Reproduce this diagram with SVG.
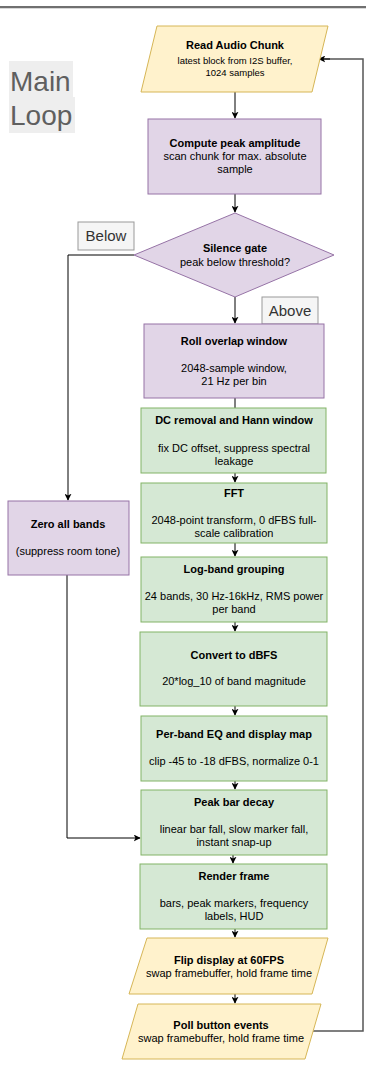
<svg xmlns="http://www.w3.org/2000/svg" width="366" height="1068" viewBox="0 0 366 1068">
<defs>
<marker id="arr" viewBox="0 0 10 10" refX="9" refY="5" markerWidth="7" markerHeight="7" orient="auto" markerUnits="userSpaceOnUse">
<path d="M0,0 L10,5 L0,10 L2.5,5 Z" fill="#000"/>
</marker>
<style>
text{font-family:"Liberation Sans",Arial,sans-serif;text-anchor:middle;fill:#000}
.b{font-weight:bold;font-size:11px}
.n{font-size:11px}
.s{font-size:9.5px}
.purple{fill:#e1d5e7;stroke:#9673a6;stroke-width:1}
.green{fill:#d5e8d4;stroke:#82b366;stroke-width:1}
.yellow{fill:#fff2cc;stroke:#d6b656;stroke-width:1}
.lbl{fill:#f5f5f5;stroke:#999;stroke-width:1}
.lt{font-size:15px;fill:#333}
.c{fill:none;stroke:#000;stroke-width:1}
.loop{fill:none;stroke:#555;stroke-width:1.5}
</style>
</defs>
<rect width="366" height="1068" fill="#fff"/>
<line x1="0" y1="7" x2="366" y2="7" stroke="#707070" stroke-width="2"/>
<line x1="0" y1="8.5" x2="366" y2="8.5" stroke="#d8d8d8" stroke-width="1"/>

<g id="title">
<rect x="9" y="61" width="64" height="36" fill="#eeeeee"/>
<rect x="9" y="97" width="66" height="36" fill="#eeeeee"/>
<text x="10" y="91" style="text-anchor:start;font-size:28px;fill:#5f5f5f">Main</text>
<text x="10" y="125" style="text-anchor:start;font-size:28px;fill:#5f5f5f">Loop</text>
</g>

<g id="connectors">
<line class="c" x1="235" y1="92" x2="235" y2="118" marker-end="url(#arr)"/>
<line class="c" x1="235" y1="194" x2="235" y2="212" marker-end="url(#arr)"/>
<line class="c" x1="235" y1="297" x2="235" y2="323" marker-end="url(#arr)"/>
<polyline class="c" points="134,255 68,255 68,500" marker-end="url(#arr)"/>
<line class="c" x1="235" y1="398" x2="235" y2="408"/>
<line class="c" x1="235" y1="473" x2="235" y2="482" marker-end="url(#arr)"/>
<line class="c" x1="235" y1="543" x2="235" y2="556" marker-end="url(#arr)"/>
<line class="c" x1="235" y1="622" x2="235" y2="631" marker-end="url(#arr)"/>
<line class="c" x1="235" y1="706" x2="235" y2="715" marker-end="url(#arr)"/>
<line class="c" x1="235" y1="781" x2="235" y2="789" marker-end="url(#arr)"/>
<polyline class="c" points="67,575 67,838 140,838" marker-end="url(#arr)"/>
<line class="c" x1="233" y1="855" x2="233" y2="863" marker-end="url(#arr)"/>
<line class="c" x1="235" y1="929" x2="235" y2="937" marker-end="url(#arr)"/>
<line class="c" x1="235" y1="994" x2="235" y2="1003" marker-end="url(#arr)"/>
<polyline class="loop" points="313,1031 363,1031 363,59 320,59"/>
<line class="c" x1="330" y1="59" x2="319" y2="59" marker-end="url(#arr)"/>
</g>

<g id="read-audio">
<polygon class="yellow" points="157,26 328,26 312,92 141,92"/>
<text class="b" x="235" y="49">Read Audio Chunk</text>
<text class="s" x="235" y="64">latest block from I2S buffer,</text>
<text class="s" x="235" y="76">1024 samples</text>
</g>

<g id="compute-peak">
<rect class="purple" x="148" y="119" width="173" height="75"/>
<text class="b" x="235" y="147">Compute peak amplitude</text>
<text class="n" x="235" y="160">scan chunk for max. absolute</text>
<text class="n" x="235" y="173">sample</text>
</g>

<g id="silence-gate">
<polygon class="purple" points="235,213 334,255 235,297 134,255"/>
<text class="b" x="235" y="252">Silence gate</text>
<text class="n" x="235" y="266">peak below threshold?</text>
</g>

<g id="label-below">
<rect class="lbl" x="78" y="222" width="56" height="28"/>
<text class="lt" x="106" y="241">Below</text>
</g>

<g id="label-above">
<rect class="lbl" x="262" y="297" width="56" height="27"/>
<text class="lt" x="290" y="316">Above</text>
</g>

<g id="roll-window">
<rect class="purple" x="144" y="324" width="180" height="74"/>
<text class="b" x="234" y="345">Roll overlap window</text>
<text class="n" x="234" y="372">2048-sample window,</text>
<text class="n" x="234" y="385">21 Hz per bin</text>
</g>

<g id="dc-hann">
<rect class="green" x="141" y="408" width="185" height="65"/>
<text class="b" x="234" y="424">DC removal and Hann window</text>
<text class="n" x="234" y="452">fix DC offset, suppress spectral</text>
<text class="n" x="234" y="465">leakage</text>
</g>

<g id="fft">
<rect class="green" x="141" y="483" width="186" height="60"/>
<text class="b" x="234" y="497">FFT</text>
<text class="n" x="234" y="524">2048-point transform, 0 dFBS full-</text>
<text class="n" x="234" y="537">scale calibration</text>
</g>

<g id="zero-bands">
<rect class="purple" x="8" y="501" width="121" height="74"/>
<text class="b" x="68" y="528">Zero all bands</text>
<text class="n" x="68" y="555">(suppress room tone)</text>
</g>

<g id="log-band">
<rect class="green" x="141" y="557" width="186" height="65"/>
<text class="b" x="234" y="573">Log-band grouping</text>
<text class="n" x="234" y="600">24 bands, 30 Hz-16kHz, RMS power</text>
<text class="n" x="234" y="613">per band</text>
</g>

<g id="convert-dbfs">
<rect class="green" x="140" y="632" width="187" height="74"/>
<text class="b" x="234" y="659">Convert to dBFS</text>
<text class="n" x="234" y="685">20*log_10 of band magnitude</text>
</g>

<g id="eq-map">
<rect class="green" x="141" y="716" width="186" height="65"/>
<text class="b" x="234" y="738">Per-band EQ and display map</text>
<text class="n" x="234" y="765">clip -45 to -18 dFBS, normalize 0-1</text>
</g>

<g id="peak-decay">
<rect class="green" x="141" y="790" width="186" height="65"/>
<text class="b" x="234" y="806">Peak bar decay</text>
<text class="n" x="234" y="833">linear bar fall, slow marker fall,</text>
<text class="n" x="234" y="846">instant snap-up</text>
</g>

<g id="render-frame">
<rect class="green" x="140" y="864" width="187" height="65"/>
<text class="b" x="234" y="880">Render frame</text>
<text class="n" x="234" y="907">bars, peak markers, frequency</text>
<text class="n" x="234" y="920">labels, HUD</text>
</g>

<g id="flip-display">
<polygon class="yellow" points="147,938 328,938 312,994 129,994"/>
<text class="b" x="229" y="964">Flip display at 60FPS</text>
<text class="n" x="229" y="977">swap framebuffer, hold frame time</text>
</g>

<g id="poll-buttons">
<polygon class="yellow" points="138,1004 321,1004 305,1059 122,1059"/>
<text class="b" x="221" y="1029">Poll button events</text>
<text class="n" x="221" y="1042">swap framebuffer, hold frame time</text>
</g>
</svg>
